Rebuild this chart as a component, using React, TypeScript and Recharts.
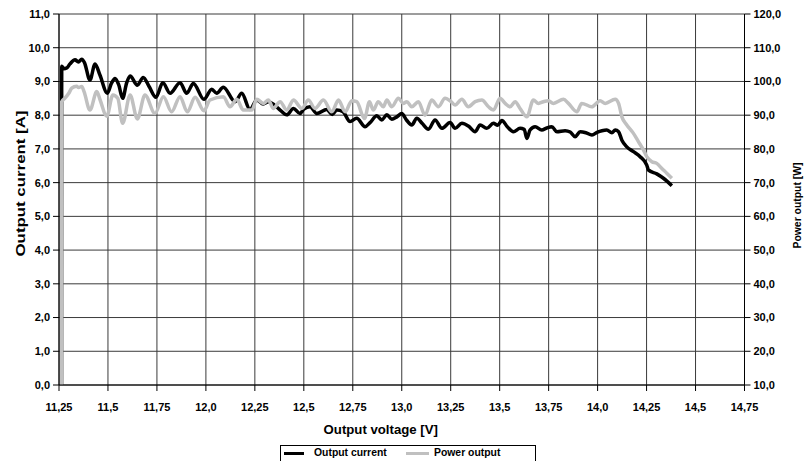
import React from "react";
import { LineChart, Line, XAxis, YAxis, CartesianGrid, Legend } from "recharts";

const currentV = [11.263, 11.264, 11.275, 11.29, 11.306, 11.332, 11.349, 11.366, 11.38, 11.408, 11.434, 11.459, 11.497, 11.518, 11.536, 11.555, 11.575, 11.595, 11.613, 11.65, 11.68, 11.71, 11.745, 11.78, 11.817, 11.868, 11.902, 11.936, 11.99, 12.03, 12.055, 12.089, 12.149, 12.183, 12.225, 12.26, 12.293, 12.319, 12.35, 12.379, 12.413, 12.447, 12.48, 12.5, 12.532, 12.566, 12.617, 12.645, 12.668, 12.7, 12.736, 12.77, 12.813, 12.838, 12.873, 12.898, 12.924, 12.949, 12.975, 13.0, 13.025, 13.051, 13.077, 13.105, 13.136, 13.17, 13.205, 13.247, 13.272, 13.307, 13.34, 13.375, 13.4, 13.434, 13.468, 13.49, 13.511, 13.54, 13.57, 13.604, 13.625, 13.639, 13.655, 13.681, 13.715, 13.74, 13.766, 13.792, 13.834, 13.86, 13.885, 13.911, 13.94, 13.971, 14.0, 14.022, 14.047, 14.073, 14.09, 14.107, 14.124, 14.149, 14.183, 14.217, 14.251, 14.26, 14.302, 14.336, 14.379];
const currentA = [0.0, 9.45, 9.38, 9.4, 9.52, 9.64, 9.58, 9.66, 9.56, 9.04, 9.52, 9.19, 8.65, 8.95, 9.09, 8.9, 8.5, 8.95, 9.16, 8.89, 9.12, 8.85, 8.53, 8.96, 8.65, 8.96, 8.65, 8.94, 8.47, 8.77, 8.65, 8.83, 8.4, 8.65, 8.17, 8.45, 8.33, 8.4, 8.3, 8.15, 8.01, 8.2, 8.05, 8.18, 8.25, 8.05, 8.17, 8.02, 8.15, 8.1, 7.81, 7.91, 7.66, 7.78, 7.98, 7.86, 8.01, 7.88, 7.95, 8.05, 7.85, 7.71, 7.91, 7.75, 7.58, 7.86, 7.61, 7.78, 7.61, 7.76, 7.68, 7.51, 7.71, 7.61, 7.76, 7.7, 7.84, 7.65, 7.51, 7.61, 7.58, 7.31, 7.56, 7.66, 7.56, 7.62, 7.66, 7.51, 7.54, 7.5, 7.36, 7.51, 7.48, 7.41, 7.5, 7.54, 7.56, 7.48, 7.56, 7.51, 7.26, 7.06, 6.92, 6.77, 6.52, 6.37, 6.26, 6.13, 5.91];

const powerV = [11.263, 11.264, 11.28, 11.3, 11.315, 11.34, 11.35, 11.366, 11.378, 11.408, 11.443, 11.46, 11.494, 11.525, 11.55, 11.575, 11.613, 11.65, 11.689, 11.74, 11.783, 11.825, 11.868, 11.905, 11.945, 11.99, 12.021, 12.089, 12.123, 12.158, 12.191, 12.234, 12.26, 12.293, 12.319, 12.344, 12.379, 12.413, 12.447, 12.49, 12.523, 12.557, 12.6, 12.643, 12.677, 12.711, 12.745, 12.77, 12.81, 12.835, 12.855, 12.88, 12.906, 12.924, 12.949, 12.983, 13.008, 13.026, 13.051, 13.085, 13.119, 13.153, 13.187, 13.221, 13.252, 13.272, 13.307, 13.34, 13.375, 13.409, 13.443, 13.468, 13.502, 13.528, 13.553, 13.579, 13.604, 13.639, 13.672, 13.698, 13.723, 13.749, 13.774, 13.826, 13.851, 13.894, 13.919, 13.97, 14.013, 14.039, 14.09, 14.107, 14.124, 14.149, 14.183, 14.209, 14.234, 14.251, 14.277, 14.302, 14.328, 14.353, 14.379];
const powerW = [10.0, 94.0, 95.0, 96.5, 98.0, 98.6, 98.2, 98.5, 97.0, 91.5, 97.0, 94.5, 89.7, 96.0, 95.0, 87.6, 96.0, 88.9, 96.0, 90.5, 95.5, 91.0, 95.5, 91.0, 95.3, 91.3, 94.5, 95.5, 92.5, 94.7, 91.5, 91.5, 94.7, 93.5, 94.5, 92.0, 94.0, 91.5, 94.5, 92.0, 94.5, 92.0, 94.5, 91.0, 94.5, 91.0, 94.3, 94.0, 89.0, 94.0, 91.5, 94.0, 92.5, 94.5, 92.5, 95.0, 93.5, 94.0, 92.5, 94.0, 90.0, 94.5, 92.5, 95.0, 94.0, 93.0, 94.7, 92.5, 94.0, 94.5, 92.5, 91.5, 95.0, 93.5, 92.5, 94.0, 92.0, 89.5, 94.5, 93.5, 94.0, 94.3, 93.5, 94.7, 93.5, 91.0, 93.5, 92.5, 94.3, 93.5, 94.7, 93.5, 89.5, 87.1, 84.6, 82.1, 79.7, 77.7, 76.2, 75.7, 74.2, 72.8, 71.3];

const xTicks = [11.25, 11.5, 11.75, 12.0, 12.25, 12.5, 12.75, 13.0, 13.25, 13.5, 13.75, 14.0, 14.25, 14.5, 14.75];
const xTickLabels = ["11,25", "11,5", "11,75", "12,0", "12,25", "12,5", "12,75", "13,0", "13,25", "13,5", "13,75", "14,0", "14,25", "14,5", "14,75"];
const leftTicks = [0, 1, 2, 3, 4, 5, 6, 7, 8, 9, 10, 11];
const leftTickLabels = ["0,0", "1,0", "2,0", "3,0", "4,0", "5,0", "6,0", "7,0", "8,0", "9,0", "10,0", "11,0"];
const rightTicks = [10, 20, 30, 40, 50, 60, 70, 80, 90, 100, 110, 120];
const rightTickLabels = ["10,0", "20,0", "30,0", "40,0", "50,0", "60,0", "70,0", "80,0", "90,0", "100,0", "110,0", "120,0"];

const currentData = currentV.map((v, k) => ({ v, i: currentA[k] }));
const powerData = powerV.map((v, k) => ({ v, p: powerW[k] }));

const FONT = "'Liberation Sans', Arial, sans-serif";
const tickStyle = { fontFamily: FONT, fontSize: 11, fontWeight: 700, fill: "#000" };

const LegendBox = () => (
  <div style={{ position: "relative", height: 20, width: 809 }}>
    <div
      style={{
        position: "absolute",
        left: 280,
        top: 4,
        width: 256,
        height: 24,
        border: "1px solid #000",
        boxSizing: "border-box",
        fontFamily: FONT,
        fontSize: 10.4,
        fontWeight: 700,
        color: "#000",
      }}
    >
      <div style={{ position: "absolute", left: 3, top: 6, width: 20, height: 3, background: "#000" }} />
      <div style={{ position: "absolute", left: 33, top: 1, lineHeight: "12px", whiteSpace: "nowrap" }}>Output current</div>
      <div style={{ position: "absolute", left: 125, top: 6, width: 23, height: 3, background: "#c0c0c0" }} />
      <div style={{ position: "absolute", left: 153, top: 1, lineHeight: "12px", whiteSpace: "nowrap" }}>Power output</div>
    </div>
  </div>
);

export default function App() {
  return (
    <div style={{ position: "absolute", left: 0, top: 0, width: 809, height: 461, overflow: "hidden", background: "#fff" }}>
      <LineChart width={809} height={461} margin={{ top: 14, right: 0, bottom: 0, left: 0 }}>
        <CartesianGrid yAxisId="left" stroke="#3a3a3a" strokeWidth={1} />
        <XAxis
          dataKey="v"
          type="number"
          domain={[11.25, 14.75]}
          ticks={xTicks}
          allowDataOverflow
          height={56}
          tickSize={6}
          tickMargin={12}
          stroke="#000"
          tick={tickStyle}
          tickFormatter={(_v: number, idx: number) => xTickLabels[idx]}
          label={{
            content: (props: any) => {
              const vb = props.viewBox;
              return (
                <text x={vb.x + vb.width / 2 - 21} y={vb.y + 44} textAnchor="middle" dominantBaseline="central" fontFamily={FONT} fontSize={13.2} fontWeight={700} fill="#000">
                  Output voltage [V]
                </text>
              );
            },
          }}
        />
        <YAxis
          yAxisId="left"
          orientation="left"
          domain={[0, 11]}
          ticks={leftTicks}
          width={59}
          tickSize={6}
          tickMargin={3}
          stroke="#000"
          tick={tickStyle}
          tickFormatter={(_v: number, idx: number) => leftTickLabels[idx]}
          label={{
            content: (props: any) => {
              const vb = props.viewBox;
              const cx = vb.x + 20;
              const cy = vb.y + vb.height / 2 - 16;
              return (
                <text x={cx} y={cy} transform={`rotate(-90 ${cx} ${cy})`} textAnchor="middle" dominantBaseline="central" fontFamily={FONT} fontSize={13.5} fontWeight={700} fill="#000" textLength={146} lengthAdjust="spacingAndGlyphs">
                  Output current [A]
                </text>
              );
            },
          }}
        />
        <YAxis
          yAxisId="right"
          orientation="right"
          domain={[10, 120]}
          ticks={rightTicks}
          width={64.5}
          tickSize={6}
          tickMargin={3}
          stroke="#000"
          tick={tickStyle}
          tickFormatter={(_v: number, idx: number) => rightTickLabels[idx]}
          label={{
            content: (props: any) => {
              const vb = props.viewBox;
              const cx = vb.x + 52.5;
              const cy = vb.y + vb.height / 2 + 6;
              return (
                <text x={cx} y={cy} transform={`rotate(-90 ${cx} ${cy})`} textAnchor="middle" dominantBaseline="central" fontFamily={FONT} fontSize={11.5} fontWeight={700} fill="#000" textLength={86} lengthAdjust="spacingAndGlyphs">
                  Power output [W]
                </text>
              );
            },
          }}
        />
        <Legend verticalAlign="bottom" content={() => <LegendBox />} />
        <Line
          yAxisId="left"
          data={currentData}
          dataKey="i"
          name="Output current"
          type="monotone"
          stroke="#000"
          strokeWidth={3.5}
          dot={false}
          activeDot={false}
          strokeLinejoin="round"
          isAnimationActive={false}
        />
        <Line
          yAxisId="right"
          data={powerData}
          dataKey="p"
          name="Power output"
          type="monotone"
          stroke="#c0c0c0"
          strokeWidth={3.5}
          dot={false}
          activeDot={false}
          strokeLinejoin="round"
          isAnimationActive={false}
        />
      </LineChart>
    </div>
  );
}
